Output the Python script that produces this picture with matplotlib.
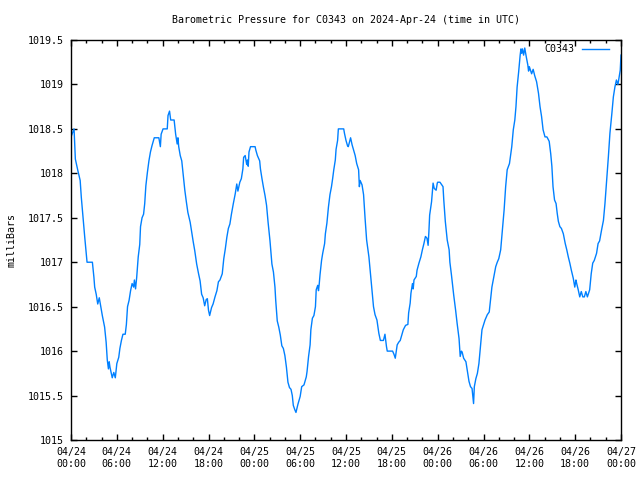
import numpy as np
import pandas as pd
import matplotlib

matplotlib.use('Agg')
import matplotlib.pyplot as plt
import matplotlib.dates as mdates
from matplotlib.ticker import FuncFormatter, MultipleLocator

station = 'C0343'
start = '2024-04-24 00:00'
end = '2024-04-27 00:00'

# hours since start (UTC)
hours = [0.0, 0.4, 0.57, 0.9, 1.2, 1.35, 1.5, 1.66, 1.8, 2.0, 2.1, 2.8, 3.0, 3.1, 3.3, 3.5,
         3.7, 3.97, 4.1, 4.4, 4.6, 4.75, 4.9, 5.0, 5.1, 5.3, 5.4, 5.6, 5.8, 6.0, 6.25, 6.4,
         6.6, 6.8, 7.1, 7.25, 7.4, 7.6, 7.8, 8.0, 8.2, 8.3, 8.45, 8.6, 8.7, 8.8, 9.0, 9.1,
         9.3, 9.5, 9.65, 9.8, 10.0, 10.2, 10.4, 10.6, 10.8, 10.9, 11.5, 11.7, 11.8, 12.05,
         12.6, 12.7, 12.9, 13.05, 13.5, 13.7, 13.9, 14.0, 14.1, 14.3, 14.5, 14.7, 14.9, 15.1,
         15.3, 15.6, 15.8, 16.0, 16.2, 16.45, 16.7, 16.9, 17.1, 17.3, 17.5, 17.7, 17.85, 18.0,
         18.15, 18.4, 18.6, 18.85, 19.1, 19.3, 19.5, 19.8, 20.0, 20.2, 20.4, 20.6, 20.8, 21.0,
         21.25, 21.5, 21.7, 21.85, 22.1, 22.3, 22.5, 22.6, 22.8, 23.0, 23.1, 23.2, 23.3, 23.5,
         24.1, 24.2, 24.4, 24.7, 24.8, 25.0, 25.2, 25.4, 25.6, 25.8, 26.05, 26.3, 26.5, 26.7,
         26.8, 27.0, 27.2, 27.4, 27.6, 27.8, 28.0, 28.2, 28.4, 28.6, 28.8, 28.97, 29.1, 29.3,
         29.45, 29.7, 30.0, 30.2, 30.5, 30.8, 30.9, 31.1, 31.3, 31.4, 31.6, 31.8, 32.0, 32.1,
         32.3, 32.4, 32.5, 32.6, 32.8, 32.95, 33.2, 33.3, 33.5, 33.7, 33.9, 34.1, 34.25, 34.4,
         34.6, 34.7, 34.9, 35.0, 35.7, 35.8, 36.0, 36.2, 36.3, 36.6, 36.8, 37.0, 37.2, 37.4,
         37.65, 37.75, 37.85, 38.1, 38.3, 38.5, 38.7, 39.0, 39.2, 39.4, 39.6, 39.8, 40.05, 40.3,
         40.5, 40.9, 41.1, 41.3, 41.4, 42.1, 42.3, 42.45, 42.7, 42.9, 43.1, 43.3, 43.5, 43.8,
         44.1, 44.2, 44.4, 44.5, 44.7, 44.8, 44.9, 45.2, 45.3, 45.55, 45.8, 46.0, 46.2, 46.4,
         46.6, 46.75, 46.85, 46.95, 47.2, 47.35, 47.4, 47.55, 47.8, 47.95, 48.0, 48.3, 48.7,
         48.8, 49.0, 49.25, 49.5, 49.6, 49.8, 49.95, 50.1, 50.35, 50.55, 50.8, 50.95, 51.1,
         51.2, 51.4, 51.7, 51.9, 52.1, 52.3, 52.5, 52.7, 52.8, 53.0, 53.2, 53.4, 53.6, 53.8,
         54.05, 54.2, 54.5, 54.75, 54.9, 55.1, 55.4, 55.6, 55.8, 56.0, 56.25, 56.45, 56.7,
         56.9, 57.1, 57.4, 57.7, 57.9, 58.1, 58.25, 58.4, 58.6, 58.8, 58.9, 59.0, 59.1, 59.25,
         59.4, 59.6, 59.8, 59.9, 60.0, 60.3, 60.5, 60.7, 60.95, 61.2, 61.4, 61.6, 61.8, 62.05,
         62.3, 62.6, 62.8, 62.95, 63.1, 63.3, 63.5, 63.65, 63.8, 64.0, 64.2, 64.45, 64.7, 64.9,
         65.1, 65.3, 65.5, 65.75, 65.95, 66.1, 66.2, 66.4, 66.6, 66.8, 67.0, 67.2, 67.4, 67.6,
         67.9, 68.1, 68.3, 68.5, 68.8, 69.0, 69.2, 69.45, 69.7, 69.9, 70.1, 70.35, 70.55, 70.8,
         71.0, 71.2, 71.4, 71.6, 71.9, 72.0]

pressure = [1018.41, 1018.5, 1018.16, 1018.03, 1017.92, 1017.73, 1017.58, 1017.43, 1017.28,
            1017.1, 1017.0, 1017.0, 1016.83, 1016.72, 1016.64, 1016.53, 1016.6, 1016.46,
            1016.4, 1016.27, 1016.1, 1015.9, 1015.8, 1015.88, 1015.82, 1015.74, 1015.7,
            1015.76, 1015.7, 1015.86, 1015.93, 1016.03, 1016.12, 1016.19, 1016.19, 1016.3,
            1016.5, 1016.57, 1016.68, 1016.76, 1016.72, 1016.8, 1016.7, 1016.83, 1016.94,
            1017.06, 1017.2, 1017.4, 1017.5, 1017.54, 1017.66, 1017.86, 1018.01, 1018.14,
            1018.24, 1018.31, 1018.37, 1018.4, 1018.4, 1018.3, 1018.44, 1018.5, 1018.5,
            1018.65, 1018.7, 1018.6, 1018.6, 1018.44, 1018.33, 1018.4, 1018.3, 1018.2,
            1018.14, 1017.98, 1017.81, 1017.68, 1017.56, 1017.45, 1017.34, 1017.23, 1017.13,
            1016.98, 1016.87, 1016.79, 1016.64, 1016.6, 1016.51, 1016.58, 1016.59, 1016.46,
            1016.4, 1016.49, 1016.53, 1016.61, 1016.68, 1016.78, 1016.8, 1016.87, 1017.04,
            1017.15, 1017.28, 1017.38, 1017.43, 1017.54, 1017.66, 1017.77, 1017.88, 1017.8,
            1017.9, 1017.94, 1018.05, 1018.18, 1018.2, 1018.1, 1018.15, 1018.08, 1018.24,
            1018.3, 1018.3, 1018.26, 1018.2, 1018.14, 1018.05, 1017.94, 1017.84, 1017.75,
            1017.64, 1017.45, 1017.24, 1016.98, 1016.89, 1016.72, 1016.57, 1016.34, 1016.27,
            1016.18, 1016.06, 1016.03, 1015.95, 1015.82, 1015.65, 1015.59, 1015.57, 1015.5,
            1015.39, 1015.34, 1015.31, 1015.4, 1015.49, 1015.6, 1015.62, 1015.71, 1015.77,
            1015.94, 1016.07, 1016.24, 1016.37, 1016.4, 1016.5, 1016.69, 1016.74, 1016.68,
            1016.76, 1016.86, 1017.02, 1017.1, 1017.21, 1017.32, 1017.44, 1017.62, 1017.76,
            1017.85, 1017.94, 1018.04, 1018.15, 1018.27, 1018.37, 1018.5, 1018.5, 1018.45,
            1018.37, 1018.31, 1018.3, 1018.4, 1018.32, 1018.26, 1018.2, 1018.11, 1018.04,
            1017.85, 1017.92, 1017.87, 1017.76, 1017.49, 1017.25, 1017.06, 1016.87, 1016.69,
            1016.5, 1016.41, 1016.35, 1016.2, 1016.12, 1016.12, 1016.19, 1016.05, 1016.0,
            1016.0, 1015.96, 1015.92, 1016.07, 1016.1, 1016.12, 1016.18, 1016.24, 1016.29,
            1016.3, 1016.43, 1016.54, 1016.65, 1016.76, 1016.7, 1016.8, 1016.84, 1016.91,
            1016.99, 1017.06, 1017.14, 1017.21, 1017.29, 1017.27, 1017.19, 1017.34, 1017.53,
            1017.68, 1017.83, 1017.89, 1017.83, 1017.81, 1017.89, 1017.9, 1017.9, 1017.85,
            1017.7, 1017.46, 1017.25, 1017.14, 1017.0, 1016.86, 1016.74, 1016.63, 1016.46,
            1016.31, 1016.14, 1015.94, 1016.0, 1015.99, 1015.92, 1015.88, 1015.77, 1015.66,
            1015.6, 1015.58, 1015.41, 1015.6, 1015.69, 1015.75, 1015.86, 1016.05, 1016.24,
            1016.31, 1016.35, 1016.41, 1016.44, 1016.56, 1016.72, 1016.86, 1016.95, 1017.0,
            1017.04, 1017.14, 1017.34, 1017.59, 1017.85, 1018.04, 1018.11, 1018.3, 1018.49,
            1018.6, 1018.75, 1018.97, 1019.14, 1019.33, 1019.4, 1019.35, 1019.4, 1019.33,
            1019.41, 1019.31, 1019.22, 1019.15, 1019.2, 1019.12, 1019.17, 1019.1, 1019.03,
            1018.9, 1018.75, 1018.64, 1018.49, 1018.41, 1018.41, 1018.36, 1018.22, 1018.08,
            1017.85, 1017.7, 1017.66, 1017.55, 1017.46, 1017.4, 1017.38, 1017.32, 1017.21,
            1017.14, 1017.06, 1016.99, 1016.91, 1016.82, 1016.72, 1016.8, 1016.76, 1016.69,
            1016.61, 1016.67, 1016.61, 1016.61, 1016.67, 1016.61, 1016.69, 1016.87, 1016.99,
            1017.02, 1017.1, 1017.21, 1017.24, 1017.36, 1017.47, 1017.66, 1017.89, 1018.19,
            1018.45, 1018.67, 1018.86, 1018.97, 1019.05, 1019.0, 1019.16, 1019.33]

font = 'DejaVu Sans Mono'
fs = 7.2

times = pd.Timestamp(start) + pd.to_timedelta(hours, unit='h')

fig = plt.figure(figsize=(6.4, 4.8), dpi=100)
ax = fig.add_axes([71 / 640, 40 / 480, 550 / 640, 400 / 480])

ax.plot(times, pressure, '-', color='#0080ff', lw=1.0, label=station)

ax.set_xlim(pd.Timestamp(start), pd.Timestamp(end))
ax.set_ylim(1015, 1019.5)

ax.xaxis.set_major_locator(mdates.HourLocator(byhour=[0, 6, 12, 18]))
ax.xaxis.set_minor_locator(mdates.HourLocator(interval=2))
ax.xaxis.set_major_formatter(mdates.DateFormatter('%m/%d\n%H:%M'))
ax.yaxis.set_major_locator(MultipleLocator(0.5))
ax.yaxis.set_major_formatter(FuncFormatter(lambda v, p: '%g' % v))

ax.tick_params(axis='both', which='both', direction='in', top=True, right=True,
               width=1, color='black', labelsize=fs)
ax.tick_params(axis='both', which='major', length=4.5)
ax.tick_params(axis='both', which='minor', length=2.5)
ax.tick_params(axis='y', pad=5)
ax.tick_params(axis='x', pad=5)
for lab in ax.get_xticklabels() + ax.get_yticklabels():
    lab.set_family(font)
for s in ax.spines.values():
    s.set_linewidth(1)

# title centred over the plot area, like gnuplot does
ax.text(0.5, 1 + 20 / 400, 'Barometric Pressure for %s on 2024-Apr-24 (time in UTC)' % station,
        transform=ax.transAxes, ha='center', va='center', fontsize=fs, family=font)
fig.text(12 / 640, 0.5, 'milliBars', rotation=90, ha='center', va='center',
         fontsize=fs, family=font)

leg = ax.legend(loc='upper right', bbox_to_anchor=(1 - 6 / 550, 1 + 2 / 400), frameon=False,
                markerfirst=False, handlelength=2.7, handletextpad=0.8, borderaxespad=0.2,
                prop={'family': font, 'size': fs})

fig.savefig('out.png', dpi=100)
